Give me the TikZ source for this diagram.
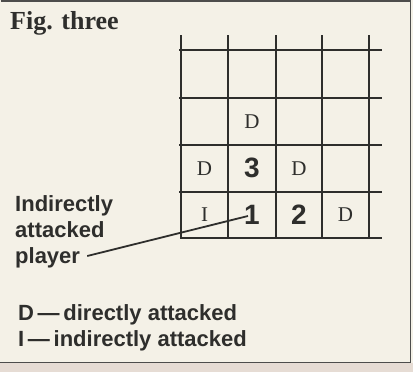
\documentclass[tikz,border=0pt]{standalone}
\usepackage{fontspec}
\setmainfont{Liberation Serif}
\setsansfont{Liberation Sans}
\definecolor{paper}{HTML}{F4F1E7}
\definecolor{band}{HTML}{E6DCD4}
\definecolor{ink}{HTML}{2E2E2C}
\begin{document}
\begin{tikzpicture}[x=1pt,y=-1pt,
  gridline/.style={draw=ink,line width=1.8pt},
  frame/.style={draw=ink!85,line width=1.8pt},
  dmark/.style={text=ink,font=\fontsize{21}{21}\selectfont,inner sep=0pt},
  num/.style={text=ink,font=\sffamily\bfseries\fontsize{28}{28}\selectfont,inner sep=0pt},
  lbl/.style={text=ink,font=\sffamily\bfseries\fontsize{22}{22}\selectfont,inner sep=0pt,anchor=base west},
  leader/.style={draw=ink,line width=1.8pt}]
\useasboundingbox (0,0) rectangle (413,372);
\fill[paper] (0,0) rectangle (413,372);
\fill[band] (0,363) rectangle (413,372);
\draw[frame] (0.5,1.2) -- (410.5,1.2) -- (410.5,362.5) -- (0,362.5);
% title
\node[text=ink,font=\bfseries\fontsize{26}{26}\selectfont,inner sep=0pt,anchor=base west] (title) at (10,29) {Fig. three};
% grid
\foreach \x in {181,228,276,322,369} \draw[gridline] (\x,35) -- (\x,238.9);
\foreach \y in {50,98,145,192} \draw[gridline] (179,\y) -- (382,\y);
\draw[gridline] (180.1,238) -- (382,238);
% cell contents
\node[dmark] (d1) at (252,121.5) {D};
\node[dmark] (d2) at (204.5,168.5) {D};
\node[num] (three) at (252,168) {3};
\node[dmark] (d3) at (299,168.5) {D};
\node[dmark] (ind1) at (204.5,215) {I};
\node[num] (one) at (252,214.5) {1};
\node[num] (two) at (299,214.5) {2};
\node[dmark] (d4) at (345.5,215) {D};
% labels
\node[lbl] (la) at (15,211) {Indirectly};
\node[lbl] (lb) at (15,237) {attacked};
\node[lbl] (lc) at (15,263) {player};
\coordinate (tip) at (248,216);
\draw[leader] ([xshift=7pt,yshift=7pt]lc.base east) -- (tip);
% legend
\node[lbl] (k1) at (18,320) {D\,—\,directly attacked};
\node[lbl] (k2) at (18,346) {I\,—\,indirectly attacked};
\end{tikzpicture}
\end{document}
